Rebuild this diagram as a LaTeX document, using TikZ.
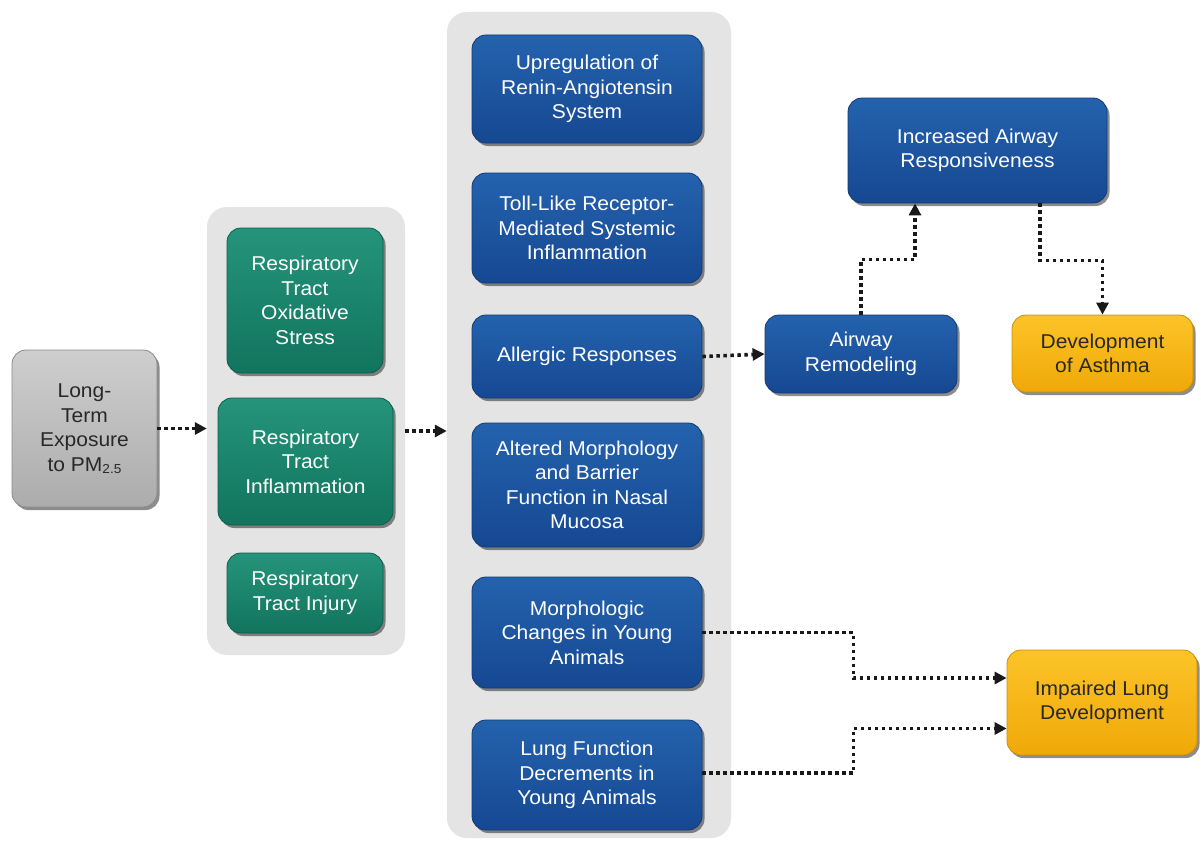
\documentclass[tikz,border=0pt]{standalone}
\usepackage{fontspec}
\setmainfont{Liberation Sans}[FakeStretch=1.05]
\usetikzlibrary{shadows,arrows.meta,calc}
\definecolor{bluetop}{RGB}{36,98,174}
\definecolor{bluebot}{RGB}{22,72,146}
\definecolor{greentop}{RGB}{36,148,122}
\definecolor{greenbot}{RGB}{18,116,94}
\definecolor{yeltop}{RGB}{252,196,40}
\definecolor{yelbot}{RGB}{240,168,8}
\definecolor{graytop}{RGB}{206,206,206}
\definecolor{graybot}{RGB}{172,172,172}
\definecolor{panelc}{RGB}{228,228,228}
\definecolor{txtdark}{RGB}{40,40,40}
\begin{document}
\begin{tikzpicture}[x=1pt,y=-1pt,
  font=\fontsize{20}{24.5}\selectfont,
  box/.style={rounded corners=14pt, align=center, inner sep=2pt,
    drop shadow={shadow xshift=2.5pt, shadow yshift=-3pt, opacity=0.45, fill=black}},
  bluebox/.style={box, top color=bluetop, bottom color=bluebot, draw=bluebot!80!black, line width=0.8pt, text=white},
  greenbox/.style={box, top color=greentop, bottom color=greenbot, draw=greenbot!80!black, line width=0.8pt, text=white},
  yelbox/.style={box, top color=yeltop, bottom color=yelbot, draw=yelbot!85!black, line width=0.8pt, text=txtdark},
  graybox/.style={box, top color=graytop, bottom color=graybot, draw=graybot!80!black, line width=0.8pt, text=txtdark},
  panel/.style={fill=panelc, rounded corners=20pt, inner sep=0pt},
  conn/.style={line width=3.6pt, dash pattern=on 3.4pt off 3.6pt, -{Triangle[length=12pt,width=12pt]}, black!90},
]
\useasboundingbox (0,0) rectangle (1202,843);
\fill[white] (0,0) rectangle (1202,843);

% panels
\node[panel, minimum width=198, minimum height=448] (panelL) at (306,431) {};
\node[panel, minimum width=284, minimum height=826] (panelM) at (589,425) {};

% exposure
\node[graybox, minimum width=145, minimum height=157] (expo) at (84.5,428.5)
  {Long-\\Term\\Exposure\\to PM{\fontsize{13}{13}\selectfont\raisebox{-2pt}{2.5}}};

% green boxes
\node[greenbox, minimum width=156, minimum height=145] (ox) at (305,300.5)
  {Respiratory\\Tract\\Oxidative\\Stress};
\node[greenbox, minimum width=175, minimum height=127] (infl) at (305.5,461.5)
  {Respiratory\\Tract\\Inflammation};
\node[greenbox, minimum width=156, minimum height=80] (inj) at (305,593)
  {Respiratory\\Tract Injury};

% blue boxes middle
\node[bluebox, minimum width=230, minimum height=108] (up) at (587,89)
  {Upregulation of\\Renin-Angiotensin\\System};
\node[bluebox, minimum width=230, minimum height=110] (toll) at (587,228)
  {Toll-Like Receptor-\\Mediated Systemic\\Inflammation};
\node[bluebox, minimum width=230, minimum height=83] (allg) at (587,356.5)
  {Allergic Responses};
\node[bluebox, minimum width=230, minimum height=124] (alt) at (587,485)
  {Altered Morphology\\and Barrier\\Function in Nasal\\Mucosa};
\node[bluebox, minimum width=230, minimum height=111] (morph) at (587,632.5)
  {Morphologic\\Changes in Young\\Animals};
\node[bluebox, minimum width=230, minimum height=110] (lung) at (587,775)
  {Lung Function\\Decrements in\\Young Animals};

% right side
\node[bluebox, minimum width=192, minimum height=78] (remod) at (861,354)
  {Airway\\Remodeling};
\node[bluebox, minimum width=259, minimum height=105] (incr) at (977.5,150.5)
  {Increased Airway\\Responsiveness};
\node[yelbox, minimum width=181, minimum height=77] (asth) at (1102.5,353.5)
  {Development\\of Asthma};
\node[yelbox, minimum width=190, minimum height=105] (imp) at (1102,702.5)
  {Impaired Lung\\Development};

% connectors
\draw[conn] (expo.east) -- (expo.east -| panelL.west);
\draw[conn] (panelL.east) -- (panelL.east -| panelM.west);
\draw[conn] (allg.east) -- (remod.west);
\draw[conn] (remod.north) -- ++(0,-55) -| ([xshift=-62.5pt]incr.south);
\draw[conn] ([xshift=62.5pt]incr.south) -- ++(0,57) -| (asth.north);
\draw[conn] (morph.east) -- ++(151,0) |- ([yshift=24.5pt]imp.west);
\draw[conn] ([yshift=2pt]lung.east) -- ++(151,0) |- ([yshift=-26pt]imp.west);
\end{tikzpicture}
\end{document}
